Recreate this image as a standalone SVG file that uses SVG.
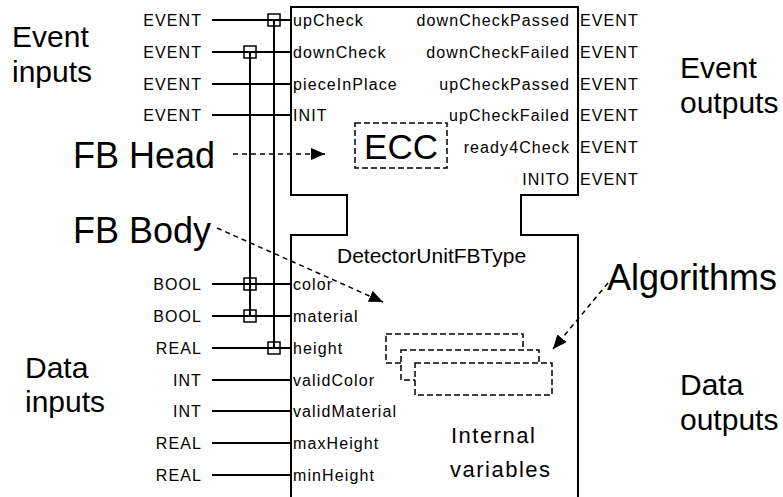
<svg xmlns="http://www.w3.org/2000/svg" width="783" height="497" viewBox="0 0 783 497">
<defs>
<style>
.t{font-family:"Liberation Sans",Arial,sans-serif;fill:#000}
.s{font-size:16px;letter-spacing:1.1px}
.big{font-size:30px}
.hd{font-size:36px}
.ln{stroke:#000;stroke-width:2;fill:none}
.sq{stroke:#000;stroke-width:1.5;fill:none}
.da{stroke:#000;stroke-width:1.5;fill:none;stroke-dasharray:5,4}
.db{stroke:#000;stroke-width:1.5;fill:#fff;stroke-dasharray:6,3}
</style>
<marker id="ah" markerUnits="userSpaceOnUse" viewBox="0 0 14 12" markerWidth="14" markerHeight="12" refX="14" refY="6" orient="auto">
<path d="M0,0 L14,6 L0,12 z" fill="#000" stroke="none"/>
</marker>
</defs>
<rect width="783" height="497" fill="#fff"/>

<g id="fb-block">
<path class="ln" d="M291,497 V235 H347 V195 H291 V7 H578 V195 H521 V235 H578 V497"/>
</g>

<g id="ecc">
<rect class="db" x="355" y="123" width="92" height="45"/>
<text class="t" x="401" y="159" font-size="35" text-anchor="middle">ECC</text>
</g>

<g id="algorithms-boxes">
<rect class="db" x="386" y="334" width="137" height="29"/>
<rect class="db" x="401" y="350" width="138" height="30"/>
<rect class="db" x="415" y="363" width="137" height="32"/>
</g>

<g id="connectors">
<!-- event input lines -->
<path class="ln" d="M212,20 H291 M212,52 H291 M212,84 H291 M212,115 H291"/>
<!-- data input lines -->
<path class="ln" d="M212,284 H291 M212,316 H291 M212,348 H291 M212,380 H291 M212,411 H291 M212,443 H291 M212,475 H291"/>
<!-- WITH association lines -->
<path class="ln" d="M250,52 V316 M274,20 V348"/>
<g>
<rect class="sq" x="268" y="14" width="12" height="12"/>
<rect class="sq" x="244" y="46" width="12" height="12"/>
<rect class="sq" x="244" y="278" width="12" height="12"/>
<rect class="sq" x="244" y="310" width="12" height="12"/>
<rect class="sq" x="268" y="342" width="12" height="12"/>
</g>
<!-- annotation arrows -->
<path class="da" d="M233,154 H325" marker-end="url(#ah)"/>
<path class="da" d="M217,228 L383,302" marker-end="url(#ah)"/>
<path class="da" d="M608,283 L553,349" marker-end="url(#ah)"/>
</g>

<g id="event-input-types" class="t s" text-anchor="end">
<text x="202" y="26">EVENT</text>
<text x="202" y="58">EVENT</text>
<text x="202" y="90">EVENT</text>
<text x="202" y="121">EVENT</text>
</g>
<g id="data-input-types" class="t s" text-anchor="end">
<text x="202" y="290">BOOL</text>
<text x="202" y="322">BOOL</text>
<text x="202" y="354">REAL</text>
<text x="202" y="386">INT</text>
<text x="202" y="417">INT</text>
<text x="202" y="449">REAL</text>
<text x="202" y="481">REAL</text>
</g>
<g id="event-inputs" class="t s">
<text x="293" y="26">upCheck</text>
<text x="293" y="58">downCheck</text>
<text x="293" y="90">pieceInPlace</text>
<text x="293" y="121">INIT</text>
</g>
<g id="data-inputs" class="t s">
<text x="293" y="290">color</text>
<text x="293" y="322">material</text>
<text x="293" y="354">height</text>
<text x="293" y="386">validColor</text>
<text x="293" y="417">validMaterial</text>
<text x="293" y="449">maxHeight</text>
<text x="293" y="481">minHeight</text>
</g>
<g id="event-outputs" class="t s" text-anchor="end">
<text x="570" y="26">downCheckPassed</text>
<text x="570" y="58">downCheckFailed</text>
<text x="570" y="90">upCheckPassed</text>
<text x="570" y="121">upCheckFailed</text>
<text x="570" y="153">ready4Check</text>
<text x="570" y="185">INITO</text>
</g>
<g id="event-output-types" class="t s">
<text x="580" y="26">EVENT</text>
<text x="580" y="58">EVENT</text>
<text x="580" y="90">EVENT</text>
<text x="580" y="121">EVENT</text>
<text x="580" y="153">EVENT</text>
<text x="580" y="185">EVENT</text>
</g>

<g id="type-name">
<text class="t" x="337" y="263" font-size="21">DetectorUnitFBType</text>
</g>
<g id="internal-vars">
<text class="t" x="451" y="443" font-size="22" letter-spacing="1.5">Internal</text>
<text class="t" x="450" y="477" font-size="22" letter-spacing="1.5">variables</text>
</g>

<g id="labels">
<text class="t big" x="12" y="47">Event</text>
<text class="t big" x="12" y="82">inputs</text>
<text class="t big" x="25" y="378">Data</text>
<text class="t big" x="25" y="412">inputs</text>
<text class="t big" x="680" y="78">Event</text>
<text class="t big" x="680" y="113">outputs</text>
<text class="t big" x="680" y="395">Data</text>
<text class="t big" x="680" y="430">outputs</text>
<text class="t hd" x="73" y="168">FB Head</text>
<text class="t hd" x="73" y="243">FB Body</text>
<text class="t hd" x="607" y="290">Algorithms</text>
</g>
</svg>
